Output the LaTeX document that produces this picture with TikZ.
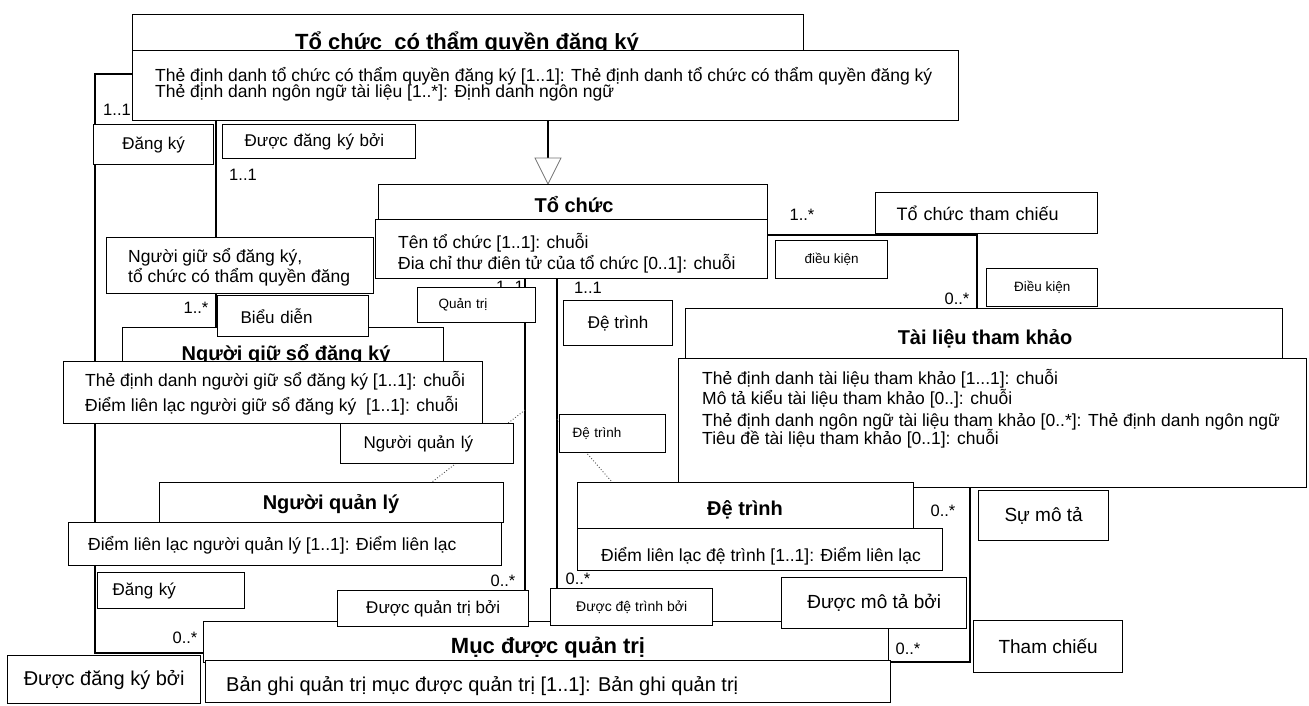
\documentclass[tikz,border=0pt]{standalone}
\usepackage{fontspec}
\setmainfont{Liberation Sans}
\begin{document}
\begin{tikzpicture}[x=1pt,y=-1pt,
  box/.style={draw, fill=white, line width=1.3pt, inner sep=0pt, anchor=north west},
  wire/.style={line width=1.1pt},
  assocdot/.style={line width=0.9pt, dotted, black!70},
  txt/.style={inner sep=0pt, anchor=base west, font=\fontsize{17.5}{20}\selectfont},
  ttl/.style={inner sep=0pt, anchor=base, font=\fontsize{20}{24}\selectfont\bfseries},
  mult/.style={inner sep=0pt, anchor=base, font=\fontsize{16.5}{19}\selectfont},
  lbl/.style={font=\fontsize{17}{20}\selectfont},
  big/.style={font=\fontsize{19}{22}\selectfont},
  sml/.style={font=\fontsize{13.5}{16}\selectfont},
  lft/.style={align=left, text width=#1},
]
\fill[white] (0,0) rectangle (1309,705);
\useasboundingbox (0,0) rectangle (1309,705);

% ---------- class boxes that the connectors start from ----------
\node[box, minimum width=671pt, minimum height=40pt] (hA) at (132,14) {};
\node[box, minimum width=826pt, minimum height=70pt] (aA) at (132,50) {};
\node[box, minimum width=389pt, minimum height=37pt] (hB) at (378,184) {};
\node[box, minimum width=392pt, minimum height=59pt] (aB) at (375,219) {};
\node[box, minimum width=321pt, minimum height=41pt] (hG) at (122,327) {};
\node[box, minimum width=597pt, minimum height=52pt] (hT) at (685,308) {};
\node[box, minimum width=628pt, minimum height=129pt] (aT) at (678,358) {};
\node[box, minimum width=344pt, minimum height=40pt] (hQ) at (159,482) {};
\node[box, minimum width=336pt, minimum height=48pt] (hD) at (577,482) {};
\node[box, minimum width=685pt, minimum height=41pt] (hM) at (203,621) {};

% ---------- connectors ----------
% Đăng ký: tổ chức có thẩm quyền -- mục được quản trị
\draw[wire] ([yshift=-24pt]aA.north west) -- ++(-37,0) |- ([yshift=-32pt]hM.north west);
% Người giữ sổ đăng ký
\draw[wire] (aA.south -| 216,0) -- (hG.north -| 216,0);
% generalisation Tổ chức -> Tổ chức có thẩm quyền đăng ký
\coordinate (genbase) at (548,158);
\draw[wire] (aA.south -| genbase) -- (genbase);
\draw[line width=0.8pt, black!55, fill=white] ([xshift=-13pt]genbase) -- ([xshift=13pt]genbase) -- (hB.north -| genbase) -- cycle;
% Quản trị and Đệ trình
\draw[wire] (aB.south -| 525,0) -- (hM.north -| 525,0);
\draw[wire] (aB.south -| 557,0) -- (hM.north -| 557,0);
\coordinate (qa) at (525,410);
\coordinate (da) at (557,419);
\draw[assocdot] (qa) -- (hQ.north -| 432,0);
\draw[assocdot] (da) -- (hD.north -| 612,0);
% Tổ chức tham chiếu
\draw[wire] (aB.east |- 0,235) -| (hT.north -| 977,0);
% Sự mô tả / Tham chiếu
\draw[wire] (aT.south -| 970,0) |- (hM.east |- 0,662);

% ---------- Tổ chức có thẩm quyền đăng ký ----------
\node[box, minimum width=671pt, minimum height=40pt] (hA2) at (132,14) {};
\node[ttl, font=\fontsize{22}{24}\selectfont\bfseries] (tA) at (467,49) {Tổ chức\ \ có thẩm quyền đăng ký};
\node[box, minimum width=826pt, minimum height=70pt] (aA2) at (132,50) {};
\node[txt] (aA1) at (155,81) {Thẻ định danh tổ chức có thẩm quyền đăng ký [1..1]: Thẻ định danh tổ chức có thẩm quyền đăng ký};
\node[txt] (aA3) at (155,97) {Thẻ định danh ngôn ngữ tài liệu [1..*]: Định danh ngôn ngữ};

% ---------- Tổ chức ----------
\node[box, minimum width=389pt, minimum height=37pt] (hB2) at (378,184) {};
\node[ttl] (tB) at (574,212) {Tổ chức};
\node[box, minimum width=392pt, minimum height=59pt] (aB2) at (375,219) {};
\node[txt] (aB1) at (398,248) {Tên tổ chức [1..1]: chuỗi};
\node[txt] (aB3) at (398,269) {Đia chỉ thư điên tử của tổ chức [0..1]: chuỗi};

% ---------- labels round Tổ chức có thẩm quyền đăng ký ----------
\node[mult] (mA1) at (117,115) {1..1};
\node[box, lbl, minimum width=120pt, minimum height=40pt] (lDk1) at (93,124) {Đăng ký};
\node[box, lbl, lft=149pt, minimum width=193pt, minimum height=34pt, inner xsep=22pt] (lDb1) at (222,124) {Được đăng ký bởi};
\node[mult] (mA2) at (243,180) {1..1};

% ---------- Người giữ sổ đăng ký ----------
\node[box, minimum width=267pt, minimum height=56pt] (lNg) at (106,237) {};
\node[txt] (lNg1) at (128,262) {Người giữ sổ đăng ký,};
\node[txt] (lNg2) at (128,282) {tổ chức có thẩm quyền đăng};
\node[mult] (mG) at (196,313) {1..*};
\node[box, minimum width=321pt, minimum height=41pt] (hG2) at (122,327) {};
\node[ttl] (tG) at (286,360) {Người giữ sổ đăng ký};
\node[box, lbl, lft=105pt, minimum width=151pt, minimum height=41pt, inner xsep=23pt] (lBd) at (217,295) {Biểu diễn};
\node[box, minimum width=419pt, minimum height=62pt] (aG) at (63,361) {};
\node[txt] (aG1) at (85,386) {Thẻ định danh người giữ sổ đăng ký [1..1]: chuỗi};
\node[txt] (aG2) at (85,411) {Điểm liên lạc người giữ sổ đăng ký\ \ [1..1]: chuỗi};

% ---------- Quản trị / Đệ trình ends at Tổ chức ----------
\node[mult] (mQ1) at (510,292) {1..1};
\node[box, sml, lft=76pt, minimum width=118pt, minimum height=35pt, inner xsep=21pt] (lQt) at (417,287) {Quản trị};
\node[mult] (mQ2) at (588,293) {1..1};
\node[box, lbl, minimum width=109pt, minimum height=45pt] (lDt) at (563,300) {Đệ trình};

% ---------- Tài liệu tham khảo ----------
\node[box, minimum width=597pt, minimum height=52pt] (hT2) at (685,308) {};
\node[ttl] (tT) at (985,344) {Tài liệu tham khảo};
\node[box, minimum width=628pt, minimum height=129pt] (aT2) at (678,358) {};
\node[txt] (aT1) at (702,384) {Thẻ định danh tài liệu tham khảo [1...1]: chuỗi};
\node[txt] (aT3) at (702,404) {Mô tả kiểu tài liệu tham khảo [0..]: chuỗi};
\node[txt] (aT4) at (702,426) {Thẻ định danh ngôn ngữ tài liệu tham khảo [0..*]: Thẻ định danh ngôn ngữ};
\node[txt] (aT5) at (702,444) {Tiêu đề tài liệu tham khảo [0..1]: chuỗi};

\node[mult] (mT1) at (802,220) {1..*};
\node[box, font=\fontsize{18}{21}\selectfont, lft=180pt, minimum width=222pt, minimum height=41pt, inner xsep=21pt] (lTc) at (875,192) {Tổ chức tham chiếu};
\node[box, sml, minimum width=112pt, minimum height=38pt] (lDk) at (775,240) {điều kiện};
\node[mult] (mT2) at (957,304) {0..*};
\node[box, sml, minimum width=111pt, minimum height=38pt] (lDK) at (986,268) {Điều kiện};

% ---------- Người quản lý ----------
\node[box, lbl, lft=127pt, minimum width=173pt, minimum height=40pt, inner xsep=23pt] (lNq) at (340,423) {Người quản lý};
\node[box, sml, lft=80pt, minimum width=106pt, minimum height=38pt, inner xsep=13pt] (lDs) at (559,414) {Đệ trình};
\node[box, minimum width=344pt, minimum height=40pt] (hQ2) at (159,482) {};
\node[ttl] (tQ) at (331,509) {Người quản lý};
\node[box, minimum width=433pt, minimum height=43pt] (aQ) at (68,522) {};
\node[txt] (aQ1) at (88,550) {Điểm liên lạc người quản lý [1..1]: Điểm liên lạc};

% ---------- Đệ trình ----------
\node[box, minimum width=336pt, minimum height=48pt] (hD2) at (577,482) {};
\node[ttl] (tD) at (745,515) {Đệ trình};
\node[box, minimum width=365pt, minimum height=42pt] (aD) at (577,528) {};
\node[txt] (aD1) at (601,561) {Điểm liên lạc đệ trình [1..1]: Điểm liên lạc};
\node[mult] (mR1) at (943,516) {0..*};
\node[box, big, minimum width=130pt, minimum height=50pt] (lSm) at (978,490) {Sự mô tả};

\node[mult] (mQ3) at (503,586) {0..*};
\node[mult] (mD3) at (578,584) {0..*};

% ---------- Mục được quản trị ----------
\node[box, minimum width=685pt, minimum height=41pt] (hM2) at (203,621) {};
\node[ttl, font=\fontsize{22}{26}\selectfont\bfseries] (tM) at (548,653) {Mục được quản trị};
\node[box, minimum width=685pt, minimum height=42pt] (aM) at (205,660) {};
\node[txt, font=\fontsize{20}{23}\selectfont] (aM1) at (226,691) {Bản ghi quản trị mục được quản trị [1..1]: Bản ghi quản trị};

\node[box, lbl, minimum width=191pt, minimum height=36pt] (lQb) at (337,590) {Được quản trị bởi};
\node[box, font=\fontsize{14}{17}\selectfont, minimum width=162pt, minimum height=37pt] (lDb) at (550,588) {Được đệ trình bởi};
\node[box, big, minimum width=185pt, minimum height=51pt] (lMb) at (781,577) {Được mô tả bởi};
\node[mult] (mR2) at (908,654) {0..*};
\node[box, big, minimum width=149pt, minimum height=52pt] (lTh) at (973,620) {Tham chiếu};

\node[mult] (mM) at (185,643) {0..*};
\node[box, lbl, lft=117pt, minimum width=147pt, minimum height=36pt, inner xsep=15pt] (lDk2) at (97,572) {Đăng ký};
\node[box, font=\fontsize{20}{23}\selectfont, minimum width=193pt, minimum height=48pt] (lDb2) at (7,655) {Được đăng ký bởi};
\end{tikzpicture}
\end{document}
